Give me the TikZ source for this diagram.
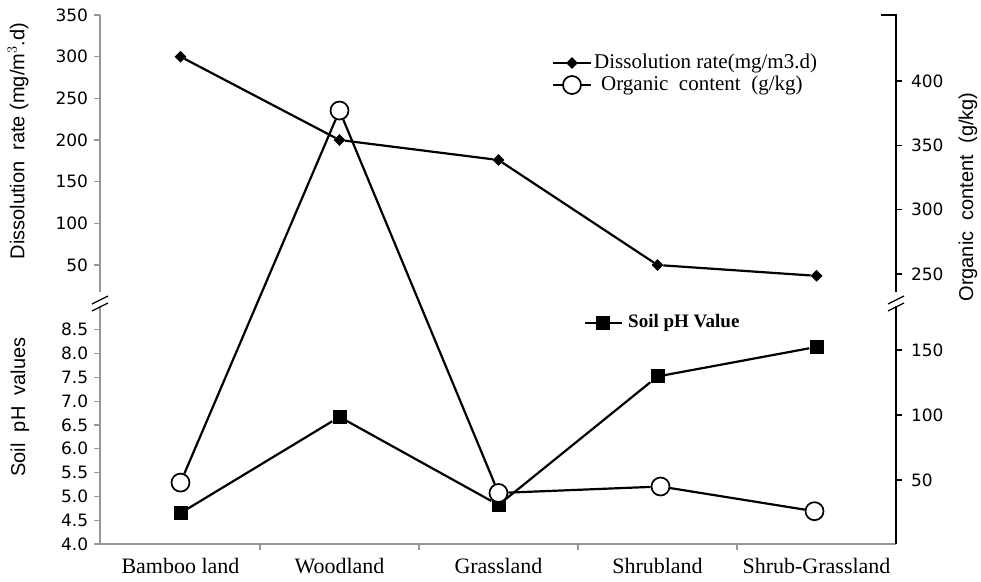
\documentclass[tikz,border=0pt]{standalone}
\usepackage{fontspec}
\setmainfont{Liberation Serif}
\newfontfamily\ticksf{DejaVu Sans}
\newfontfamily\titlesf{Liberation Sans}
\usetikzlibrary{positioning,shapes.geometric}
\definecolor{axisgray}{RGB}{150,150,150}
\tikzset{
  declare function={dr(\v)=265-(\v-50)*0.8333; ocu(\v)=274-(\v-250)*1.287;
    ocl(\v)=545-\v*1.3; ph(\v)=544-(\v-4)*47.6;},
  dmark/.style={diamond,fill=black,inner sep=0pt,minimum size=12pt},
  omark/.style={circle,draw=black,line width=1.7pt,fill=white,inner sep=0pt,minimum size=18pt},
  smark/.style={rectangle,fill=black,inner sep=0pt,minimum size=14pt},
  dataline/.style={line width=2.2pt},
  ticklbl/.style={font=\ticksf\fontsize{17}{19}\selectfont},
  axtitle/.style={font=\titlesf\fontsize{20}{23}\selectfont},
  catlbl/.style={font=\fontsize{22}{24}\selectfont},
  leglbl/.style={font=\fontsize{21}{24}\selectfont,anchor=west,inner sep=0pt}
}
\begin{document}
\begin{tikzpicture}[x=1pt,y=-1pt]
  \useasboundingbox (0,0) rectangle (981,581);
  % axes
  \draw[axisgray,line width=1.5pt] (100,15)--(100,292);
  \draw[axisgray,line width=1.5pt] (100,306)--(100,544)--(896,544);
  \draw[line width=2pt] (881,15)--(896,15)--(896,292);
  \draw[line width=2pt] (896,306)--(896,544);
  % axis breaks
  \draw[line width=1.3pt] (92,304)--(108,296) (92,311)--(108,303);
  \draw[line width=1.3pt] (888,304)--(904,296) (888,311)--(904,303);
  % left ticks
  \foreach \v in {50,100,...,350}
    \draw[axisgray,line width=1.2pt] (100,{dr(\v)})--(94,{dr(\v)})
      node[left=2pt,black,ticklbl]{\v};
  \foreach \v in {4.0,4.5,5.0,5.5,6.0,6.5,7.0,7.5,8.0,8.5}
    \draw[axisgray,line width=1.2pt] (100,{ph(\v)})--(94,{ph(\v)})
      node[left=2pt,black,ticklbl]{\v};
  % right ticks
  \foreach \v in {250,300,350,400}
    \draw[line width=1.5pt] (896,{ocu(\v)})--(902,{ocu(\v)})
      node[right=5pt,ticklbl]{\v};
  \foreach \v in {50,100,150}
    \draw[line width=1.5pt] (896,{ocl(\v)})--(902,{ocl(\v)})
      node[right=5pt,ticklbl]{\v};
  % categories
  \foreach \name [count=\i] in {Bamboo land,Woodland,Grassland,Shrubland,Shrub-Grassland}
    \node[catlbl] (cat\i) at ({101+159*(\i-0.5)},566) {\name};
  \foreach \i in {1,...,4}
    \draw[axisgray,line width=1.2pt] ({101+159*\i},544)--({101+159*\i},550);
  % axis titles
  \node[axtitle,rotate=90] (ttl-dr) at (18,141) {Dissolution\ \ rate (mg/m$^3$.d)};
  \node[axtitle,rotate=90] (ttl-ph) at (20,407) {Soil\ \ pH\ \ values};
  \node[axtitle,rotate=90] (ttl-oc) at (968,197) {Organic\ \ content\ \ (g/kg)};
  % soil pH
  \node[smark] (s1) at (180.5,{ph(4.65)}) {};
  \node[smark] (s2) at (339.5,{ph(6.67)}) {};
  \node[smark] (s3) at (498.5,{ph(4.82)}) {};
  \node[smark] (s4) at (657.5,{ph(7.52)}) {};
  \node[smark] (s5) at (816.5,{ph(8.14)}) {};
  \draw[dataline] (s1)--(s2)--(s3)--(s4)--(s5);
  % organic content
  \node[omark] (o1) at (180.5,{ocl(48)}) {};
  \node[omark] (o2) at (339.5,{ocu(377)}) {};
  \node[omark] (o3) at (498.5,{ocl(40)}) {};
  \node[omark] (o4) at (660.5,{ocl(45)}) {};
  \node[omark] (o5) at (814.5,{ocl(26)}) {};
  \draw[dataline] (o1)--(o2)--(o3)--(o4)--(o5);
  % dissolution rate
  \node[dmark] (d1) at (180.5,{dr(300)}) {};
  \node[dmark] (d2) at (339.5,{dr(200)}) {};
  \node[dmark] (d3) at (498.5,{dr(176)}) {};
  \node[dmark] (d4) at (657.5,{dr(50)}) {};
  \node[dmark] (d5) at (816.5,{dr(37)}) {};
  \draw[dataline] (d1)--(d2)--(d3)--(d4)--(d5);
  % legends
  \coordinate (ld-a) at (553,63); \coordinate (ld-b) at (591,63);
  \draw[dataline] (ld-a)--(ld-b);
  \node[dmark] (ld) at (572,63) {};
  \node[leglbl] (ld-t) at (594,63) {Dissolution rate(mg/m3.d)};
  \coordinate (lo-a) at (553,85); \coordinate (lo-b) at (591,85);
  \draw[dataline] (lo-a)--(lo-b);
  \node[omark] (lo) at (572,85) {};
  \node[leglbl] (lo-t) at (601,85) {Organic\ \ content\ \ (g/kg)};
  \coordinate (ls-a) at (585,323); \coordinate (ls-b) at (622,323);
  \draw[dataline] (ls-a)--(ls-b);
  \node[smark] (ls) at (603,323) {};
  \node[leglbl,font=\bfseries\fontsize{19}{22}\selectfont] (ls-t) at (628,323) {Soil pH Value};
\end{tikzpicture}
\end{document}
